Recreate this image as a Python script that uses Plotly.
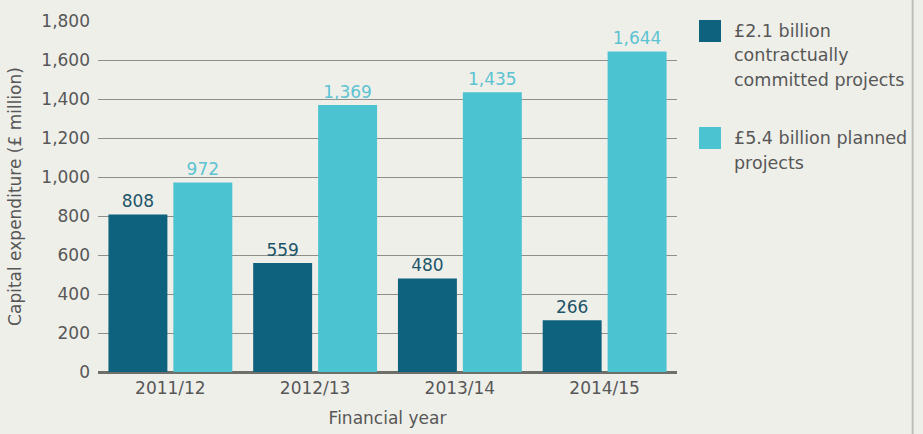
import plotly.graph_objects as go

years = ["2011/12", "2012/13", "2013/14", "2014/15"]
committed = [808, 559, 480, 266]
planned = [972, 1369, 1435, 1644]
series_lines = [["£2.1 billion", "contractually", "committed projects"],
                ["£5.4 billion planned", "projects"]]
y_ticks = [0, 200, 400, 600, 800, 1000, 1200, 1400, 1600, 1800]

DARK = "#0F627D"
LIGHT = "#4CC3D1"
BG = "#EFEFEA"
TEXT = "#575757"
FONT = "DejaVu Sans, sans-serif"
FS = 17

fig = go.Figure()
fig.add_trace(go.Bar(
    x=years, y=committed, marker_color=DARK, marker_line_width=0,
    text=[f"{v:,}" for v in committed], textposition="outside",
    textfont=dict(color="#1D5568", size=FS, family=FONT),
    cliponaxis=False, showlegend=False,
))
fig.add_trace(go.Bar(
    x=years, y=planned, marker_color=LIGHT, marker_line_width=0,
    text=[f"{v:,}" for v in planned], textposition="outside",
    textfont=dict(color="#5CC3D2", size=FS, family=FONT),
    cliponaxis=False, showlegend=False,
))

# hand-drawn legend on the right (paper coords: plot area is 351 px tall)
PX = 1 / 351
legend_colors = [DARK, LIGHT]
legend_tops = [1.0 + 1 * PX, 1.0 - 106 * PX]
LINE_STEP = 24.5 * PX
for lines, col, top in zip(series_lines, legend_colors, legend_tops):
    fig.add_shape(type="rect", xref="paper", yref="paper",
                  x0=1.038, x1=1.076, y0=top - 22 * PX, y1=top,
                  fillcolor=col, line_width=0)
    for i, line in enumerate(lines):
        fig.add_annotation(xref="paper", yref="paper", x=1.095,
                           y=top - 11 * PX - i * LINE_STEP,
                           text=line, showarrow=False, xanchor="left",
                           yanchor="middle", align="left",
                           font=dict(size=17.5, color=TEXT, family=FONT))

# thin frame edge at the right of the panel
fig.add_shape(type="line", xref="paper", yref="paper",
              x0=1.407, x1=1.407, y0=-0.2, y1=1.1,
              line=dict(color="#BDBDBA", width=2))

fig.update_layout(
    width=923, height=434,
    margin=dict(l=98, r=246, t=21, b=62),
    paper_bgcolor=BG, plot_bgcolor=BG,
    barmode="group", bargap=0.103, bargroupgap=0.092,
    font=dict(family=FONT, color=TEXT, size=FS),
    xaxis=dict(
        range=[-0.5, 3.5], showgrid=False, ticks="", showline=False,
        ticklabelstandoff=4, automargin=False,
        tickfont=dict(size=FS, color=TEXT),
        title=dict(text="Financial year", font=dict(size=FS, color=TEXT)),
    ),
    yaxis=dict(
        range=[0, 1800], tickvals=y_ticks, tickformat=",",
        showgrid=True, gridcolor="#8E8E8A", gridwidth=1.3,
        zeroline=True, zerolinecolor="#6E6E6A", zerolinewidth=2.5,
        ticks="", ticklabelstandoff=7, automargin=False,
        tickfont=dict(size=FS, color=TEXT),
        title=dict(text="Capital expenditure (£ million)",
                   font=dict(size=FS, color=TEXT)),
    ),
)

fig.write_html("out.html")
